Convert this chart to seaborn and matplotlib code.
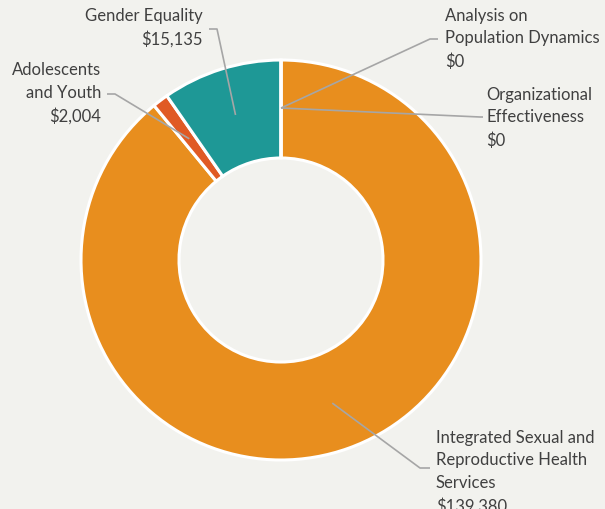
import numpy as np
import matplotlib
matplotlib.use("Agg")
import matplotlib.pyplot as plt
import seaborn as sns

categories = ["Integrated Sexual and\nReproductive Health\nServices",
              "Adolescents\nand Youth",
              "Gender Equality",
              "Analysis on\nPopulation Dynamics",
              "Organizational\nEffectiveness"]
values = [139380, 2004, 15135, 0, 0]
colors = ["#E88E1E", "#E05A24", "#1E9896", "#7F7F7F", "#5B9BD5"]

sns.set_theme(style="white")
plt.rcParams['font.family'] = ['Lato', 'DejaVu Sans']

BG = "#F2F2EE"
W, H = 605, 509
fig = plt.figure(figsize=(W / 100, H / 100), dpi=100, facecolor=BG)
cx, cy, R = 281, 260, 200
ax = fig.add_axes([(cx - R) / W, (H - cy - R) / H, 2 * R / W, 2 * R / H])
ax.set_facecolor(BG)

wedges, _ = ax.pie(values, colors=colors, startangle=90, counterclock=False,
                   radius=1.0, wedgeprops=dict(width=0.49, edgecolor="white", linewidth=2.2))
ax.set_xlim(-1, 1)
ax.set_ylim(-1, 1)
ax.set_aspect("auto")
ax.axis("off")

def px(x, y):
    return ((x - cx) / R, (cy - y) / R)

# layout: elbow point, line end, text anchor, alignment (in pixel coords)
layout = [
    dict(elbow=(420, 468), end=(430, 468), text=(436, 430), ha="left"),
    dict(elbow=(115, 94), end=(107, 94), text=(101, 62), ha="right"),
    dict(elbow=(217, 29), end=(209, 29), text=(203, 8), ha="right"),
    dict(elbow=(430, 39), end=(438, 39), text=(445, 8), ha="left"),
    dict(elbow=(480, 117), end=(483, 117), text=(486, 87), ha="left"),
]

for w, cat, val, lay in zip(wedges, categories, values, layout):
    mid = np.deg2rad((w.theta1 + w.theta2) / 2)
    ax_ = 0.76 * np.cos(mid)
    ay_ = 0.76 * np.sin(mid)
    ex, ey = px(*lay["elbow"])
    fx, fy = px(*lay["end"])
    ax.plot([ax_, ex, fx], [ay_, ey, fy], color="#A6A6A6", lw=1.2,
            solid_capstyle="butt", clip_on=False, zorder=5)
    tx, ty = px(*lay["text"])
    ax.text(tx, ty, f"{cat}\n${val:,.0f}", ha=lay["ha"], va="top",
            fontsize=12, color="#404040", linespacing=1.5, clip_on=False)

fig.savefig("out.png", dpi=100, facecolor=BG)
